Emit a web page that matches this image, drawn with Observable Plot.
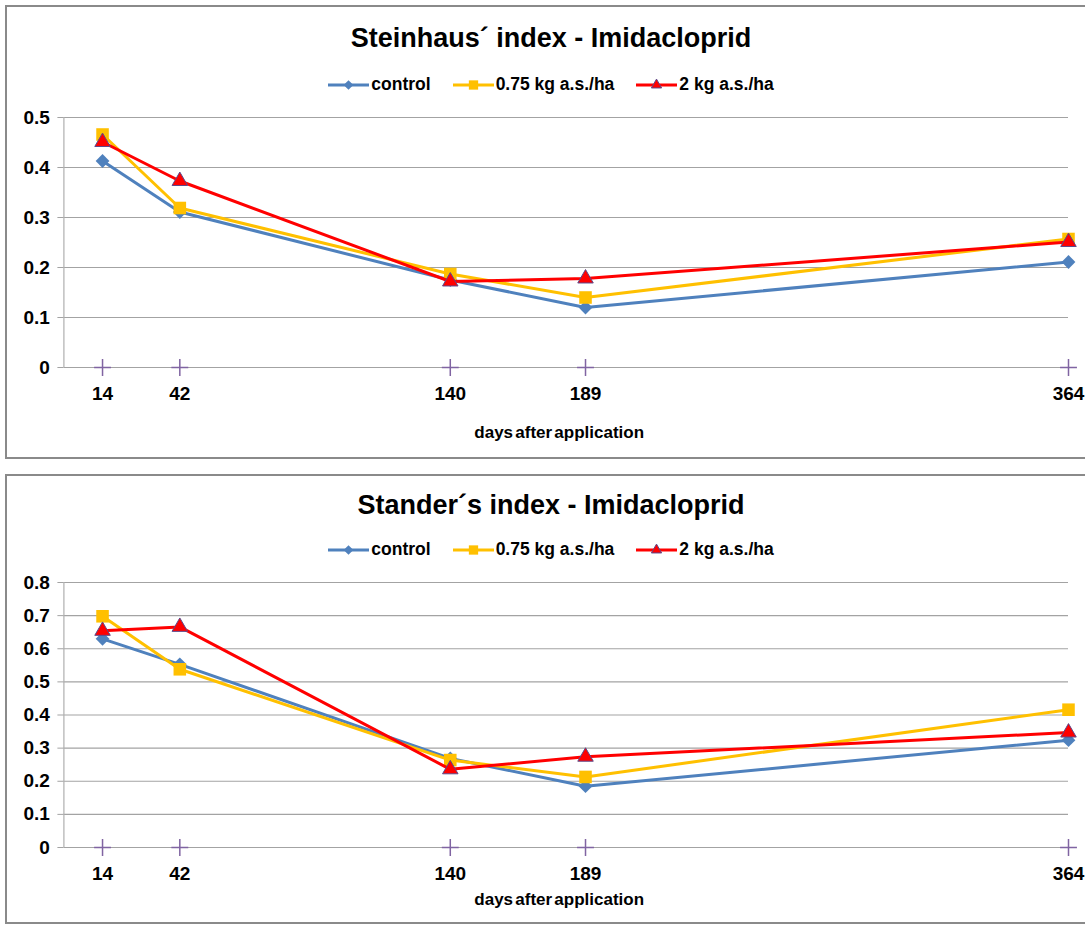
<!DOCTYPE html>
<html><head><meta charset="utf-8">
<script src="https://cdn.jsdelivr.net/npm/d3@7"></script>
<script src="https://cdn.jsdelivr.net/npm/@observablehq/plot@0.6"></script>
<style>
html,body{margin:0;padding:0;background:#fff;overflow:hidden;width:1085px;height:925px;}
body{position:relative;font-family:"Liberation Sans",Arial,sans-serif;}
.box{position:absolute;left:5px;width:1100px;border:2px solid #8a8a8a;border-right:none;box-sizing:border-box;background:#fff;}
.title{position:absolute;left:0;width:1088px;text-align:center;font-weight:bold;font-size:27px;line-height:27px;height:27px;color:#000;}
.legend{position:absolute;left:0;width:1088px;height:17px;display:flex;justify-content:center;align-items:center;font-weight:bold;font-size:17.5px;line-height:17px;color:#000;}
.item{display:flex;align-items:center;margin:0 11px;}
.item svg{display:block;margin-right:2px;}
.plot{position:absolute;left:0;}
g[aria-label="x-axis label"] text{word-spacing:-2.5px;}
</style></head><body>
<script>
// ---- data ----
const days = [14, 42, 140, 189, 364];
const seriesNames = ["control", "0.75 kg a.s./ha", "2 kg a.s./ha"];
const steinhausControl = [0.413, 0.311, 0.175, 0.120, 0.211];
const steinhaus075     = [0.466, 0.319, 0.187, 0.140, 0.257];
const steinhaus2       = [0.451, 0.373, 0.172, 0.178, 0.251];
const standerControl   = [0.630, 0.553, 0.269, 0.185, 0.324];
const stander075       = [0.698, 0.538, 0.264, 0.213, 0.416];
const stander2         = [0.654, 0.666, 0.236, 0.274, 0.347];
const yTicksSteinhaus = [0, 0.1, 0.2, 0.3, 0.4, 0.5];
const yTicksStander = [0, 0.1, 0.2, 0.3, 0.4, 0.5, 0.6, 0.7, 0.8];
const xLabel = "days after application";
const titles = ["Steinhaus\u00B4 index - Imidacloprid", "Stander\u00B4s index - Imidacloprid"];

// ---- styles ----
const seriesStyle = [
  {color: "#4F81BD", symbol: "diamond2", r: 6.2, stroke: "none", legendSym: d3.symbolDiamond2, legendSize: 60},
  {color: "#FFC000", symbol: "square2", r: 8, stroke: "none", legendSym: d3.symbolSquare2, legendSize: 110},
  {color: "#FF0000", symbol: "triangle2", r: 7.4, stroke: "#5B4A8C", legendSym: d3.symbolTriangle2, legendSize: 75}
];

function makeChart(cfg) {
  const box = document.createElement("div");
  box.className = "box";
  box.style.top = cfg.boxTop + "px";
  box.style.height = cfg.boxH + "px";
  document.body.appendChild(box);

  const t = document.createElement("div");
  t.className = "title";
  t.style.top = cfg.titleTop + "px";
  t.textContent = cfg.title;
  box.appendChild(t);

  const lg = document.createElement("div");
  lg.className = "legend";
  lg.style.top = cfg.legendTop + "px";
  seriesNames.forEach((name, i) => {
    const st = seriesStyle[i];
    const it = document.createElement("div");
    it.className = "item";
    const ns = "http://www.w3.org/2000/svg";
    const sv = document.createElementNS(ns, "svg");
    sv.setAttribute("width", 41); sv.setAttribute("height", 14);
    const ln = document.createElementNS(ns, "line");
    ln.setAttribute("x1", 0); ln.setAttribute("x2", 41); ln.setAttribute("y1", 7); ln.setAttribute("y2", 7);
    ln.setAttribute("stroke", st.color); ln.setAttribute("stroke-width", 3);
    sv.appendChild(ln);
    const p = document.createElementNS(ns, "path");
    p.setAttribute("d", d3.symbol(st.legendSym, st.legendSize)());
    p.setAttribute("transform", "translate(20.5,7)");
    p.setAttribute("fill", st.color);
    if (st.stroke !== "none") { p.setAttribute("stroke", st.stroke); p.setAttribute("stroke-width", 1); }
    sv.appendChild(p);
    it.appendChild(sv);
    const sp = document.createElement("span");
    sp.textContent = name;
    it.appendChild(sp);
    lg.appendChild(it);
  });
  box.appendChild(lg);

  const data = [];
  seriesNames.forEach((s, i) => days.forEach((d, j) => data.push({series: s, idx: i, day: d, v: cfg.values[i][j]})));

  const marks = [
    Plot.ruleY(cfg.yTicks, {stroke: "#a3a3a3", strokeWidth: 1.2}),
    Plot.ruleX([0], {stroke: "#b0b0b0", strokeWidth: 1.2}),
    Plot.axisY({ticks: cfg.yTicks, tickSize: 6, tickPadding: 8, tickFormat: d => d === 0 ? "0" : d.toFixed(1),
      fontSize: 19, fontWeight: "bold", stroke: "#a3a3a3", fill: "#000", label: null}),
    Plot.axisX({ticks: days, tickSize: 0, tickPadding: 19, tickFormat: d => String(d),
      fontSize: 19, fontWeight: "bold", fill: "#000", label: null}),
    Plot.axisX({ticks: [], tickSize: 0, label: xLabel, labelAnchor: "center", labelArrow: "none",
      labelOffset: cfg.labelOffset, fontSize: 17, fontWeight: "bold", fill: "#000"}),
    Plot.dot(days, {x: d => d, y: d => 0, symbol: "plus", r: 5.5, stroke: "#8064A2", strokeWidth: 1.5})
  ];
  seriesNames.forEach((s, i) => {
    const st = seriesStyle[i];
    const sub = data.filter(d => d.idx === i);
    marks.push(Plot.line(sub, {x: "day", y: "v", stroke: st.color, strokeWidth: 3}));
    marks.push(Plot.dot(sub, {x: "day", y: "v", symbol: st.symbol, r: st.r, fill: st.color,
      stroke: st.stroke, strokeWidth: st.stroke === "none" ? 0 : 1}));
  });

  const svg = Plot.plot({
    width: 1078,
    height: cfg.svgH,
    marginLeft: 56.4,
    marginRight: 17,
    marginTop: cfg.marginTop,
    marginBottom: cfg.svgH - cfg.marginTop - cfg.plotH,
    x: {domain: [0, 364]},
    y: {domain: [0, cfg.yTicks[cfg.yTicks.length - 1]]},
    style: {fontFamily: "'Liberation Sans', Arial, sans-serif", background: "transparent", overflow: "visible"},
    marks
  });
  svg.classList.add("plot");
  svg.style.position = "absolute";
  svg.style.top = cfg.svgTop + "px";
  svg.style.left = "0px";
  svg.style.maxWidth = "none";
  // nudge the axis title slightly left (as in the original, centred on the chart area)
  svg.querySelectorAll('g[aria-label="x-axis label"]').forEach(g => {
    const tr = g.getAttribute("transform") || "";
    g.setAttribute("transform", tr + " translate(-7,0)");
  });
  box.appendChild(svg);
}

makeChart({
  title: titles[0],
  values: [steinhausControl, steinhaus075, steinhaus2],
  yTicks: yTicksSteinhaus,
  boxTop: 5, boxH: 454,
  titleTop: 18, legendTop: 69,
  svgTop: 93, svgH: 347, marginTop: 17, plotH: 250, labelOffset: 70
});
makeChart({
  title: titles[1],
  values: [standerControl, stander075, stander2],
  yTicks: yTicksStander,
  boxTop: 474, boxH: 450,
  titleTop: 16, legendTop: 65,
  svgTop: 89, svgH: 347, marginTop: 17, plotH: 265, labelOffset: 57
});
</script>
</body></html>
